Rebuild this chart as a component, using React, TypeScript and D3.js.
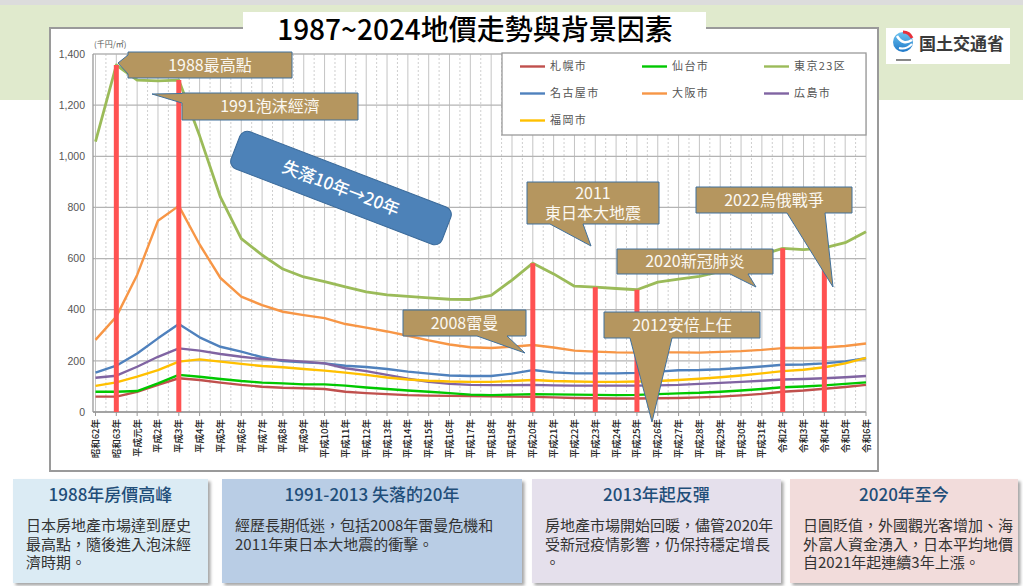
import React from 'react';
import * as d3 from 'd3';

const categories = ['昭和62年','昭和63年','平成元年','平成2年','平成3年','平成4年','平成5年','平成6年','平成7年','平成8年','平成9年','平成10年','平成11年','平成12年','平成13年','平成14年','平成15年','平成16年','平成17年','平成18年','平成19年','平成20年','平成21年','平成22年','平成23年','平成24年','平成25年','平成26年','平成27年','平成28年','平成29年','平成30年','平成31年','令和2年','令和3年','令和4年','令和5年','令和6年'];

const sapporo = [60,60,79,106,132,125,115,106,99,95,93,90,79,74,70,66,64,63,62,61,60,59,57,55,54,53,53,54,55,57,60,65,71,79,84,91,98,106];
const sendai = [79,79,82,112,145,138,129,121,115,112,108,108,103,96,90,84,79,74,68,66,68,70,69,68,67,66,67,70,73,75,79,84,90,97,100,104,110,116];
const tokyo = [1057,1357,1298,1295,1298,1080,840,678,614,559,528,510,489,470,458,452,446,441,440,456,516,582,540,492,488,483,478,508,520,530,550,580,615,640,635,642,662,705];
const nagoya = [154,181,229,288,344,292,255,236,214,199,194,190,181,176,168,158,150,143,141,141,150,164,155,151,151,151,153,158,163,164,167,172,178,185,186,190,198,210];
const osaka = [282,373,536,748,806,655,524,451,418,392,379,367,344,330,315,298,280,264,253,250,255,262,252,240,236,233,232,233,233,232,235,238,243,250,250,252,258,268];
const hiroshima = [134,142,177,216,249,240,227,216,207,203,197,190,171,160,145,130,118,110,106,105,105,106,104,103,103,103,103,104,106,110,114,118,122,127,129,132,136,141];
const fukuoka = [102,116,138,164,197,206,197,188,180,175,168,162,154,145,135,127,122,119,118,118,121,125,121,119,118,118,119,121,125,130,136,143,151,160,165,175,190,212];

const seriesNames = ['札幌市','仙台市','東京23区','名古屋市','大阪市','広島市','福岡市'];
const seriesData = [sapporo, sendai, tokyo, nagoya, osaka, hiroshima, fukuoka];
const seriesColors = ['#c0504d','#00c800','#9bbb59','#4f81bd','#f79646','#8064a2','#ffc000'];

const yTicks = [0,200,400,600,800,1000,1200,1400];
const eventCats = ['昭和63年','平成3年','平成20年','平成23年','平成25年','令和2年','令和4年'];

const title = '1987~2024地價走勢與背景因素';

type Callout = { lines: string[]; x: number; y: number; w: number; h: number; side: 'left'|'bottom'; a: number; b: number; tx: number; ty: number };
const callouts: Callout[] = [
  { lines: ['1988最高點'], x: 128, y: 52, w: 164, h: 26, side: 'left', a: 55, b: 74, tx: 118, ty: 63 },
  { lines: ['1991泡沫經濟'], x: 182, y: 93, w: 176, h: 27, side: 'left', a: 93.5, b: 103, tx: 152, ty: 94 },
  { lines: ['2011', '東日本大地震'], x: 527, y: 182, w: 132, h: 42, side: 'bottom', a: 550, b: 583, tx: 591, ty: 246 },
  { lines: ['2022烏俄戰爭'], x: 696, y: 187, w: 156, h: 26, side: 'bottom', a: 787, b: 825, tx: 833, ty: 287 },
  { lines: ['2020新冠肺炎'], x: 617, y: 249, w: 156, h: 25, side: 'bottom', a: 730, b: 748, tx: 756, ty: 287 },
  { lines: ['2008雷曼'], x: 403, y: 310, w: 123, h: 26, side: 'bottom', a: 477, b: 507, tx: 525, ty: 353 },
  { lines: ['2012安倍上任'], x: 604, y: 312, w: 156, h: 26, side: 'bottom', a: 630, b: 672, tx: 652, ty: 422 },
];

type Card = { title: string; body: string[]; x: number; w: number; fill: string };
const cards: Card[] = [
  { title: '1988年房價高峰', body: ['日本房地產市場達到歷史', '最高點，隨後進入泡沫經', '濟時期。'], x: 13, w: 195, fill: '#dbebf4' },
  { title: '1991-2013 失落的20年', body: ['經歷長期低迷，包括2008年雷曼危機和', '2011年東日本大地震的衝擊。'], x: 222, w: 300, fill: '#b9cde5' },
  { title: '2013年起反彈', body: ['房地產市場開始回暖，儘管2020年', '受新冠疫情影響，仍保持穩定增長', '。'], x: 532, w: 249, fill: '#e5e0ec' },
  { title: '2020年至今', body: ['日圓貶值，外國觀光客增加、海', '外富人資金湧入，日本平均地價', '自2021年起連續3年上漲。'], x: 790, w: 228, fill: '#f2dcdb' },
];

function calloutPath(c: Callout) {
  const x1 = c.x + c.w, y1 = c.y + c.h;
  if (c.side === 'bottom') return `M${c.x},${c.y}H${x1}V${y1}H${c.b}L${c.tx},${c.ty}L${c.a},${y1}H${c.x}Z`;
  return `M${c.x},${c.y}H${x1}V${y1}H${c.x}V${c.b}L${c.tx},${c.ty}L${c.x},${c.a}Z`;
}

const JP = '"Noto Sans CJK JP", "Noto Sans", sans-serif';
const TC = '"Noto Sans CJK TC", "Noto Sans", sans-serif';

export default function App() {
  const x = d3.scalePoint<string>().domain(categories).range([95.5, 866]);
  const y = d3.scaleLinear().domain([0, 1400]).range([412, 54]);
  const line = d3.line<number>().x((_, i) => x(categories[i])!).y(d => y(d));
  const step = x.step();

  return (
    <svg width={1023} height={586} style={{ position: 'absolute', left: 0, top: 0, background: '#fff' }}>
      <defs>
        <filter id="sh" x="-5%" y="-5%" width="115%" height="120%">
          <feDropShadow dx="2.5" dy="2.5" stdDeviation="1.5" floodColor="#000" floodOpacity="0.35" />
        </filter>
        <linearGradient id="lg" x1="0" y1="0" x2="0" y2="1">
          <stop offset="0" stopColor="#6cc3f0" />
          <stop offset="1" stopColor="#1e78c8" />
        </linearGradient>
      </defs>
      {/* background band */}
      <rect x={0} y={0} width={1023} height={100} fill="#e0eacd" />
      <rect x={0} y={0} width={1023} height={5} fill="#dcdcdc" />

      {/* chart frame */}
      <rect x={50} y={28} width={828} height={443} fill="#fff" stroke="#9a9a9a" strokeWidth={2} />

      {/* unit */}
      <text x={94} y={47} fontSize={8} fill="#555" fontFamily={JP}>(千円/㎡)</text>

      {/* grid */}
      <g>
        {categories.map((c, i) => (
          <line key={'g' + i} x1={x(c)} x2={x(c)} y1={54} y2={412} stroke="#c4c4c4" strokeWidth={1} />
        ))}
        {categories.slice(0, -1).map((c, i) => (
          <line key={'m' + i} x1={x(c)! + step / 2} x2={x(c)! + step / 2} y1={54} y2={412} stroke="#cfcfcf" strokeWidth={1} strokeDasharray="2,2" />
        ))}
        {yTicks.map(t => (
          <line key={'h' + t} x1={93} x2={866} y1={y(t)} y2={y(t)} stroke="#b4b4b4" strokeWidth={1.3} />
        ))}
        <line x1={93} x2={93} y1={54} y2={412} stroke="#999" strokeWidth={1.3} />
        <line x1={93} x2={866} y1={412} y2={412} stroke="#999" strokeWidth={1.5} />
        {categories.map((c, i) => (
          <line key={'t' + i} x1={x(c)} x2={x(c)} y1={412} y2={416} stroke="#999" strokeWidth={1} />
        ))}
      </g>
      {yTicks.map(t => (
        <text key={'yl' + t} x={85} y={y(t)} dy="0.35em" textAnchor="end" fontSize={10.5} fill="#555" fontFamily="Liberation Sans, Arial, sans-serif">{d3.format(',')(t)}</text>
      ))}
      {categories.map((c, i) => (
        <text key={'xl' + i} transform={`translate(${x(c)! + 3.5},419) rotate(-90)`} textAnchor="end" fontSize={9.5} fill="#222" fontFamily={JP} fontWeight={500}>{c}</text>
      ))}

      {/* lines */}
      {seriesData.map((d, i) => (
        <path key={'s' + i} d={line(d)!} fill="none" stroke={seriesColors[i]} strokeWidth={i === 2 ? 2.8 : 2.4} strokeLinejoin="round" />
      ))}

      {/* legend */}
      <rect x={502} y={53} width={364} height={82} fill="#fff" stroke="#9a9a9a" strokeWidth={1.3} />
      {seriesNames.map((n, i) => {
        const col = i % 3, row = Math.floor(i / 3);
        const lx = 520 + col * 122, ly = 66.5 + row * 27;
        return (
          <g key={'lg' + i}>
            <line x1={lx} x2={lx + 25} y1={ly} y2={ly} stroke={seriesColors[i]} strokeWidth={2.4} />
            <text x={lx + 30} y={ly} dy="0.36em" fontSize={11} letterSpacing={1.4} fill="#555" fontFamily={JP}>{n}</text>
          </g>
        );
      })}

      {/* event bars */}
      {eventCats.map(c => {
        const idx = categories.indexOf(c);
        return <line key={'e' + c} x1={x(c)} x2={x(c)} y1={412} y2={y(tokyo[idx])} stroke="#ff5252" strokeWidth={5} />;
      })}

      {/* lost decade label */}
      <g transform="translate(341,188) rotate(21)">
        <rect x={-113} y={-20} width={226} height={40} rx={8} fill="#4d82b8" stroke="#3a6a9a" strokeWidth={1} />
        <text x={0} y={0} dy="0.36em" textAnchor="middle" fontSize={17} fill="#fff" fontFamily={TC} fontWeight={500} lang="zh-TW">失落10年→20年</text>
      </g>

      {/* callouts */}
      {callouts.map((c, i) => (
        <g key={'c' + i}>
          <path d={calloutPath(c)} fill="#b5965f" stroke="#41719c" strokeWidth={1} />
          {c.lines.map((t, j) => (
            <text key={j} x={c.x + c.w / 2} y={c.y + c.h / 2 + (j - (c.lines.length - 1) / 2) * 20} dy="0.36em" textAnchor="middle" fontSize={16} fill="#fbf8f2" fontFamily={TC} lang="zh-TW">{t}</text>
          ))}
        </g>
      ))}

      {/* title */}
      <rect x={243} y={12} width={463} height={36} fill="#fff" />
      <text x={475} y={30} dy="0.36em" textAnchor="middle" fontSize={28} fill="#000" fontFamily={TC} fontWeight={500} lang="zh-TW">{title}</text>

      {/* logo */}
      <rect x={886} y={28} width={124} height={36} fill="#fff" />
      <circle cx={903} cy={42} r={10} fill="url(#lg)" />
      <path d="M897,36 Q903,46 912,40" fill="none" stroke="#fff" strokeWidth={2.5} />
      <path d="M899,48 Q906,50 912,44" fill="none" stroke="#fff" strokeWidth={2} />
      <path d="M903,32 A10,10 0 0 1 912,38" fill="none" stroke="#e8303a" strokeWidth={3} />
      <rect x={896} y={59} width={15} height={2} fill="#888" />
      <text x={919} y={44} dy="0.36em" fontSize={17} fontWeight={700} fill="#3a3a3a" fontFamily={JP} lang="ja">国土交通省</text>

      {/* cards */}
      {cards.map((c, i) => (
        <g key={'card' + i} lang="zh-TW">
          <rect x={c.x} y={479} width={c.w} height={104} fill={c.fill} filter="url(#sh)" />
          <text x={c.x + c.w / 2} y={495} dy="0.36em" textAnchor="middle" fontSize={17} fill="#1f4e79" fontFamily={TC} fontWeight={500} lang="zh-TW">{c.title}</text>
          {c.body.map((t, j) => (
            <text key={j} x={c.x + 13} y={526 + j * 18.5} dy="0.36em" fontSize={15} fill="#333" fontFamily={TC} lang="zh-TW">{t}</text>
          ))}
        </g>
      ))}
    </svg>
  );
}
